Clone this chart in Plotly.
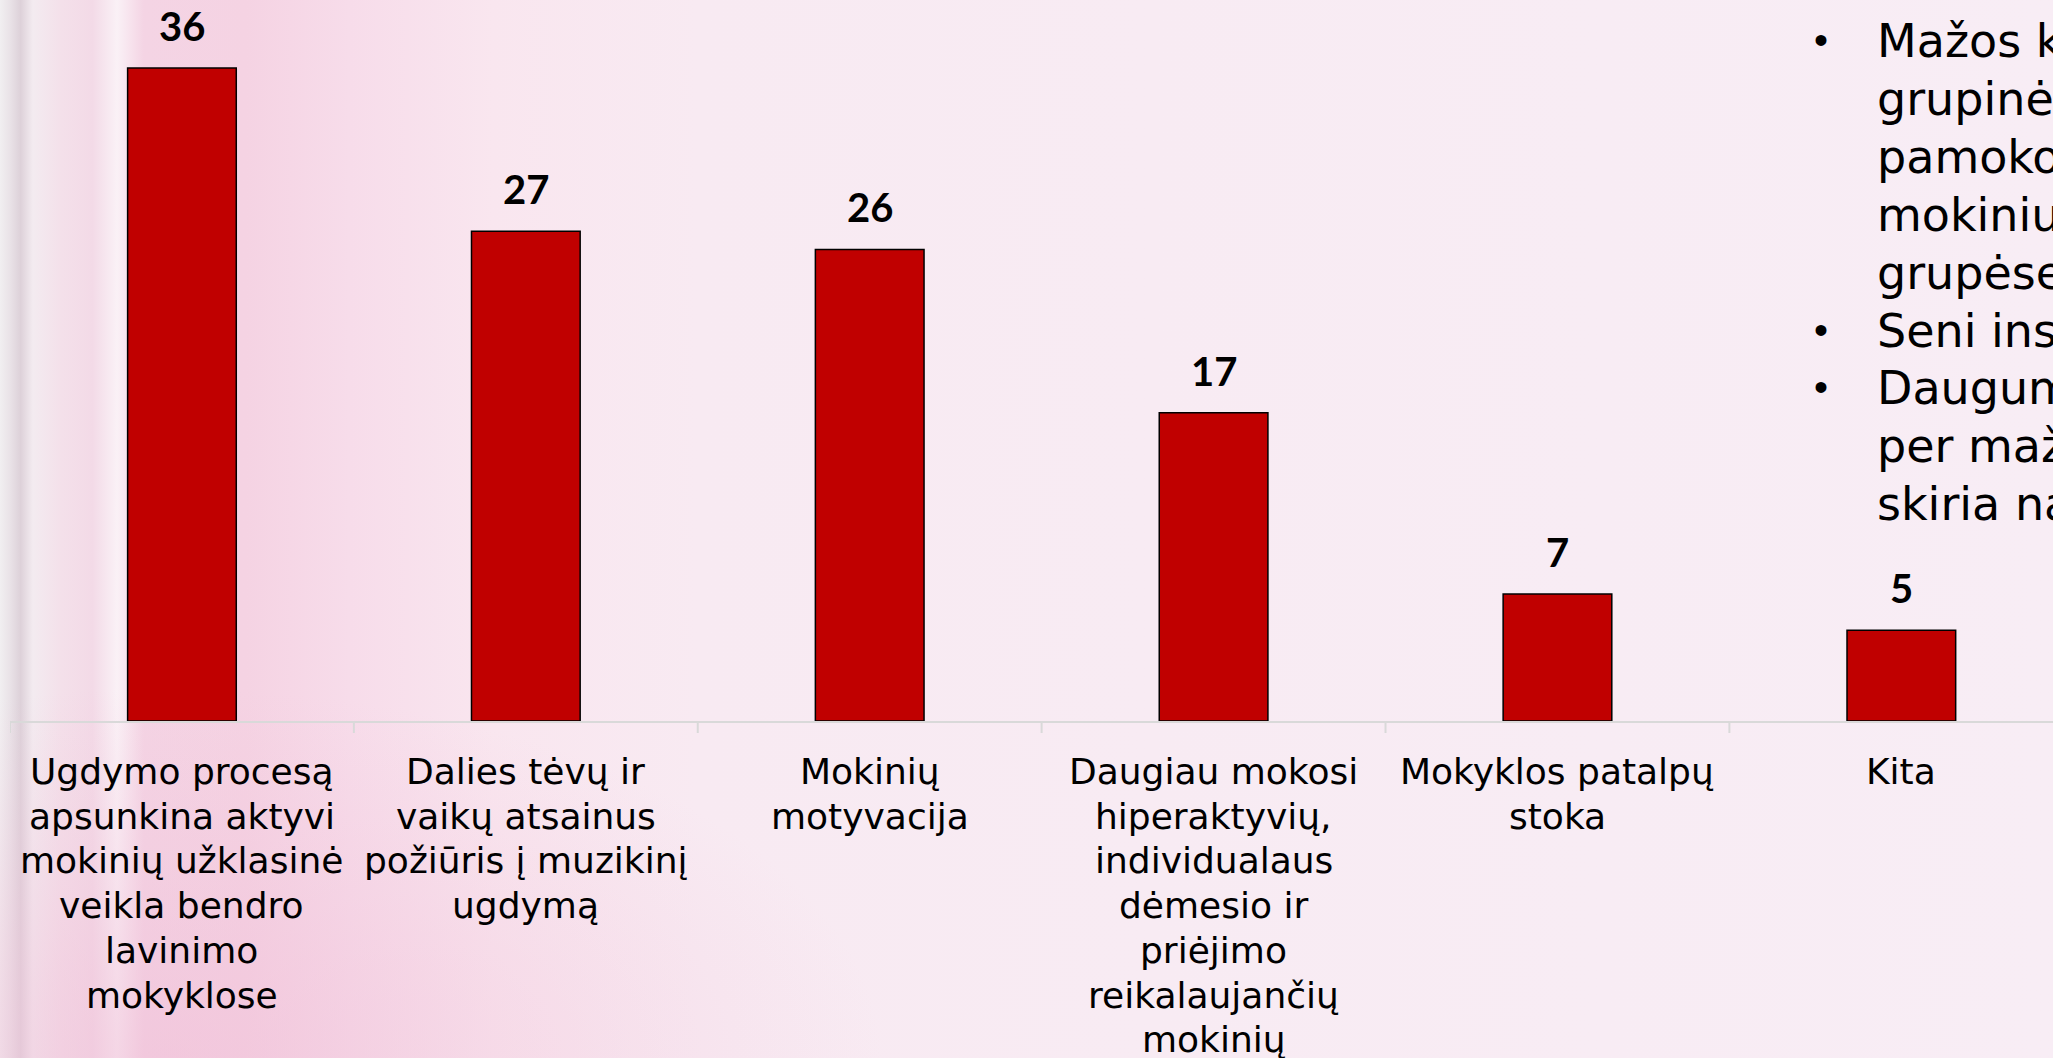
import base64
import plotly.graph_objects as go

categories = [
    "Ugdymo procesą<br>apsunkina aktyvi<br>mokinių užklasinė<br>veikla bendro<br>lavinimo<br>mokyklose",
    "Dalies tėvų ir<br>vaikų atsainus<br>požiūris į muzikinį<br>ugdymą",
    "Mokinių<br>motyvacija",
    "Daugiau mokosi<br>hiperaktyvių,<br>individualaus<br>dėmesio ir<br>priėjimo<br>reikalaujančių<br>mokinių",
    "Mokyklos patalpų<br>stoka",
    "Kita",
]
values = [36, 27, 26, 17, 7, 5]

side_lines = ["Mažos k", "grupinė", "pamoko", "mokiniu", "grupėse", "Seni ins", "Daugum", "per maž", "skiria na"]
side_bullets = [True, False, False, False, False, True, True, False, False]

W, H = 2053, 1058
ML, MB = 10, 337
plot_w = W - ML
plot_h = H - MB

svg = f"""<svg xmlns='http://www.w3.org/2000/svg' width='{W}' height='{H}' preserveAspectRatio='none'>
<defs>
<linearGradient id='g' x1='0' y1='0' x2='1' y2='0'>
<stop offset='0' stop-color='#F1EFF1'/>
<stop offset='0.005' stop-color='#E9E2E7'/>
<stop offset='0.01' stop-color='#DDD1D9'/>
<stop offset='0.016' stop-color='#F3EBF0'/>
<stop offset='0.03' stop-color='#F4E0EA'/>
<stop offset='0.045' stop-color='#F3DAE7'/>
<stop offset='0.057' stop-color='#FAF1F6'/>
<stop offset='0.07' stop-color='#F4D4E4'/>
<stop offset='0.12' stop-color='#F5D3E3'/>
<stop offset='0.17' stop-color='#F7DCEA'/>
<stop offset='0.24' stop-color='#F9E6EF'/>
<stop offset='0.34' stop-color='#F8EAF2'/>
<stop offset='1' stop-color='#F8EDF5'/>
</linearGradient>
<radialGradient id='r' cx='0.08' cy='1' r='0.35' gradientUnits='objectBoundingBox'>
<stop offset='0' stop-color='#F0BED7' stop-opacity='0.55'/>
<stop offset='1' stop-color='#F0BED7' stop-opacity='0'/>
</radialGradient>
</defs>
<rect width='{W}' height='{H}' fill='url(#g)'/>
<rect width='{W}' height='{H}' fill='url(#r)'/>
</svg>"""
bg_src = "data:image/svg+xml;base64," + base64.b64encode(svg.encode("utf-8")).decode("ascii")

fig = go.Figure()
fig.add_trace(go.Bar(
    x=list(range(len(values))),
    y=values,
    marker=dict(color="#C00000", line=dict(color="#000000", width=1.5)),
    width=0.316,
    hoverinfo="skip",
))

annotations = []
for i, v in enumerate(values):
    annotations.append(dict(
        x=i, y=v, xref="x", yref="y", text=f"<b>{v}</b>", showarrow=False,
        yshift=42, font=dict(family="Lato, sans-serif", size=40, color="#000000"),
    ))

# category labels, one annotation per line for exact line spacing
lab_size = 36
lab_base0 = 784
lab_dy = 44.7
for i, cat in enumerate(categories):
    for k, line in enumerate(cat.split("<br>")):
        py = lab_base0 + k * lab_dy - 0.346 * lab_size
        annotations.append(dict(
            x=i, y=1 - py / plot_h, xref="x", yref="paper", text=line,
            showarrow=False, xanchor="center", yanchor="middle",
            font=dict(family="DejaVu Sans, Verdana, sans-serif", size=lab_size, color="#000000"),
        ))

side_size = 46
side_base0 = 57
side_dy = 57.9
for k, (txt, bul) in enumerate(zip(side_lines, side_bullets)):
    py = side_base0 + k * side_dy - 0.346 * side_size
    yp = 1 - py / plot_h
    annotations.append(dict(
        x=(1875 - ML) / plot_w, y=yp, xref="paper", yref="paper", text=txt,
        showarrow=False, xanchor="left", yanchor="middle",
        font=dict(family="DejaVu Sans, Verdana, sans-serif", size=side_size, color="#000000"),
    ))
    if bul:
        annotations.append(dict(
            x=(1821 - ML) / plot_w, y=1 - (side_base0 + k * side_dy - 17) / plot_h,
            xref="paper", yref="paper", text="•",
            showarrow=False, xanchor="center", yanchor="middle",
            font=dict(family="Liberation Sans, Arial, sans-serif", size=40, color="#000000"),
        ))

fig.update_layout(
    width=W, height=H,
    margin=dict(l=ML, r=0, t=0, b=MB, pad=0),
    paper_bgcolor="#F8EDF5",
    plot_bgcolor="rgba(0,0,0,0)",
    showlegend=False,
    annotations=annotations,
    images=[dict(source=bg_src, xref="paper", yref="paper", x=-ML / plot_w, y=1,
                 sizex=W / plot_w, sizey=H / plot_h, xanchor="left", yanchor="top",
                 sizing="stretch", layer="below")],
    xaxis=dict(
        tickmode="array",
        tickvals=list(range(len(categories))),
        range=[-0.5, 5.441],
        showgrid=False, zeroline=False,
        showline=True, linecolor="#D9D9D9", linewidth=2,
        ticks="", showticklabels=False,
        fixedrange=True,
    ),
    yaxis=dict(range=[0, 39.75], visible=False, fixedrange=True),
    shapes=[dict(type="line", xref="x", yref="paper", x0=b, x1=b, y0=0, y1=-12 / plot_h,
                 line=dict(color="#D9D9D9", width=2))
            for b in [i - 0.5 for i in range(len(categories))]],
)

fig.write_html(
    "out.html",
    config={"displayModeBar": False},
    post_script="document.body.style.margin='0';document.body.style.overflow='hidden';",
)
